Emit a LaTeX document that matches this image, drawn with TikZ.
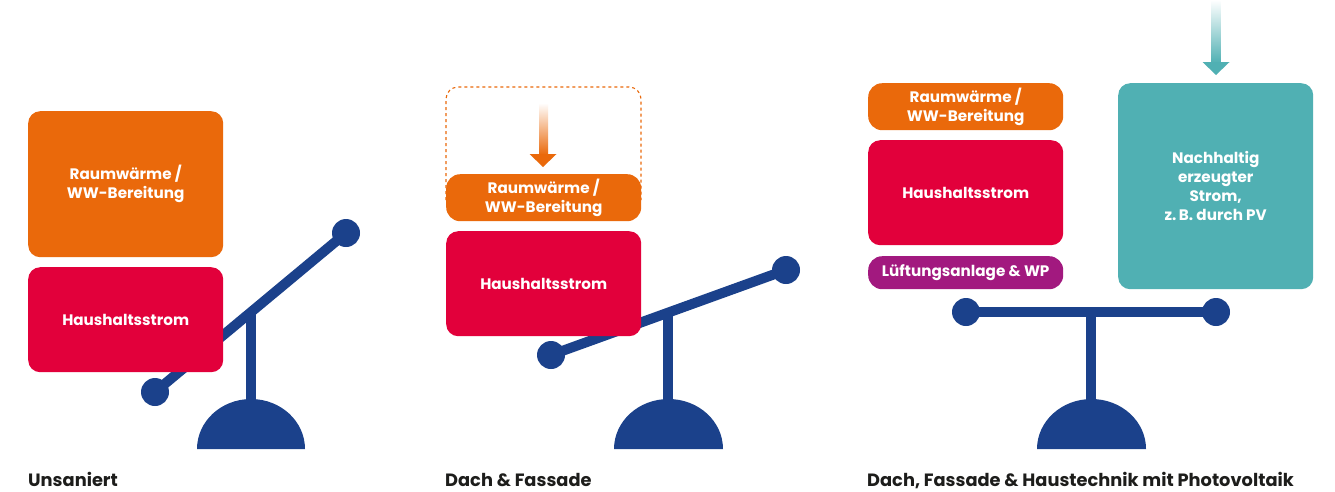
\documentclass[tikz,border=0pt]{standalone}
\usepackage{fontspec}
\setmainfont{Poppins}
\definecolor{cOrange}{HTML}{EA690B}
\definecolor{cRed}{HTML}{E2003B}
\definecolor{cPurple}{HTML}{A2197F}
\definecolor{cTeal}{HTML}{50B0B3}
\definecolor{cNavy}{HTML}{1B418B}
\definecolor{cText}{HTML}{1D1D1B}
\tikzset{
  box/.style={fill=#1, rounded corners=12pt, text=white, align=center,
    font=\fontsize{15.2}{19}\selectfont\bfseries, inner sep=0pt, anchor=north west},
  ball/.style={circle, fill=cNavy, minimum size=28pt, inner sep=0pt},
  beam/.style={draw=cNavy, line width=10pt},
  post/.style={draw=cNavy, line width=10pt},
  dome/.style={fill=cNavy},
  caption/.style={anchor=base west, text=cText, font=\fontsize{17.8}{20}\selectfont\bfseries, inner sep=0pt},
  dashbox/.style={draw=cOrange, dash pattern=on 3pt off 3pt, line width=1.1pt, rounded corners=12pt},
}
\begin{document}
\begin{tikzpicture}[x=1pt,y=-1pt]
\fill[white] (0,0) rectangle (1335,491);
\useasboundingbox (0,0) rectangle (1335,491);

% ---------- Panel 1 ----------
\node[ball] (b1l) at (155,392) {};
\node[ball] (b1r) at (346,233) {};
\draw[beam] (b1l.center) -- (b1r.center);
\coordinate (p1top) at (251,312);
\coordinate (p1bot) at (251,404);
\draw[post] (p1top) -- (p1bot);
\fill[dome] (197,449) arc[start angle=180,end angle=360,x radius=54,y radius=50] -- cycle;
\node[box=cOrange, minimum width=195pt, minimum height=146pt] (o1) at (28,111) {Raumwärme /\\WW-Bereitung};
\node[box=cRed, minimum width=195pt, minimum height=105pt] (r1) at (28,267) {Haushaltsstrom};
\node[caption] (c1) at (28,486) {Unsaniert};

% ---------- Panel 2 ----------
\node[ball] (b2l) at (551,355) {};
\node[ball] (b2r) at (786,270) {};
\draw[beam] (b2l.center) -- (b2r.center);
\coordinate (p2top) at (668,313);
\coordinate (p2bot) at (668,404);
\draw[post] (p2top) -- (p2bot);
\fill[dome] (614,449) arc[start angle=180,end angle=360,x radius=54.5,y radius=50] -- cycle;
\draw[dashbox] (446,200) -- (446,87) -- (641,87) -- (641,200);
\shade[top color=white, bottom color=cOrange] (539,103) rectangle (548,155);
\fill[cOrange] (529.5,154) -- (556.5,154) -- (543,167) -- cycle;
\coordinate (a2tip) at (543,167);
\node[box=cOrange, rounded corners=14pt, minimum width=195pt, minimum height=47pt] (o2) at (446,174) {Raumwärme /\\WW-Bereitung};
\node[box=cRed, minimum width=195pt, minimum height=105pt] (r2) at (446,231) {Haushaltsstrom};
\node[caption] (c2) at (445,486) {Dach \& Fassade};

% ---------- Panel 3 ----------
\node[ball] (b3l) at (966,312) {};
\node[ball] (b3r) at (1216,312) {};
\draw[beam] (b3l.center) -- (b3r.center);
\coordinate (p3top) at (1091,312);
\coordinate (p3bot) at (1091,404);
\draw[post] (p3top) -- (p3bot);
\fill[dome] (1037,449) arc[start angle=180,end angle=360,x radius=54.5,y radius=50] -- cycle;
\shade[top color=white, bottom color=cTeal] (1211.5,0) rectangle (1220.5,63);
\fill[cTeal] (1202.5,62) -- (1229.5,62) -- (1216,75) -- cycle;
\node[box=cOrange, rounded corners=14pt, minimum width=195pt, minimum height=47pt] (o3) at (868,83) {Raumwärme /\\WW-Bereitung};
\node[box=cRed, minimum width=195pt, minimum height=105pt] (r3) at (868,140) {Haushaltsstrom};
\node[box=cPurple, rounded corners=14pt, minimum width=195pt, minimum height=33pt] (v3) at (868,256) {Lüftungsanlage \& WP};
\node[box=cTeal, minimum width=195pt, minimum height=206pt] (t3) at (1118,83) {Nachhaltig\\erzeugter\\Strom,\\z.\,B. durch PV};
\node[caption] (c3) at (867,486) {Dach, Fassade \& Haustechnik mit Photovoltaik};
\end{tikzpicture}
\end{document}
